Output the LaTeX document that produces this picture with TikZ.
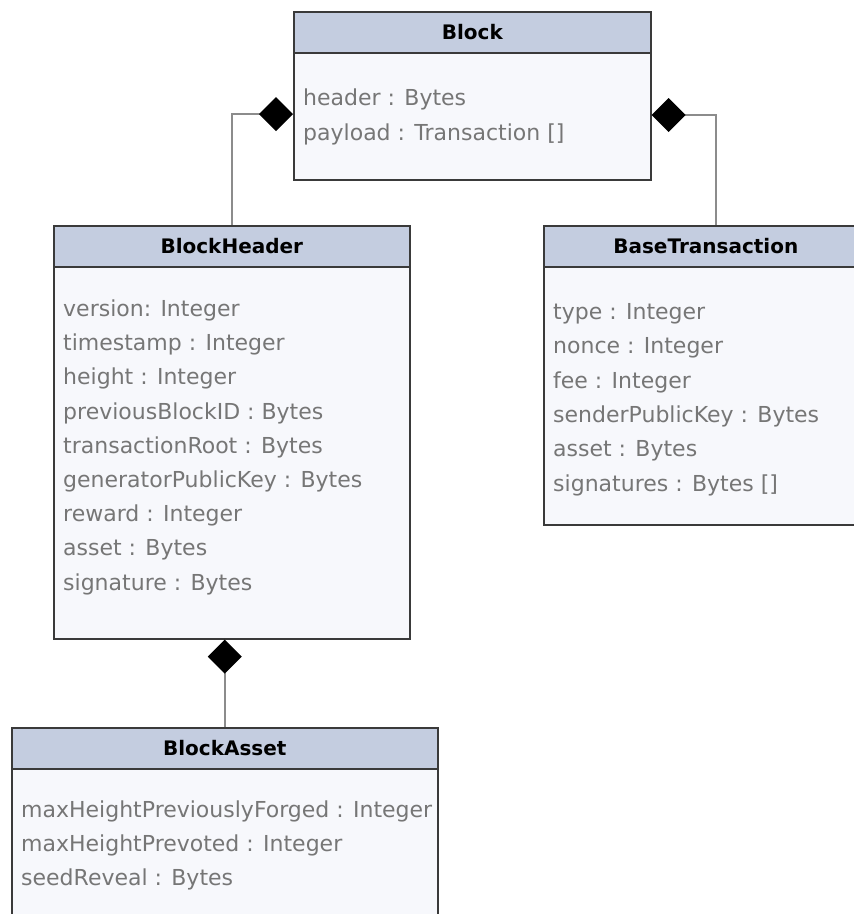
\documentclass[tikz,border=0pt]{standalone}
\usepackage{fontspec}
\setmainfont{DejaVu Sans}
\usetikzlibrary{arrows.meta}
\definecolor{hdr}{HTML}{C4CDE0}
\definecolor{bdy}{HTML}{F7F8FC}
\definecolor{edgec}{HTML}{3A3A3A}
\definecolor{attr}{HTML}{767676}
\definecolor{connc}{HTML}{8C8C8C}
\begin{document}
\begin{tikzpicture}[x=1pt,y=-1pt,
  classbox/.style={draw=edgec, line width=1.6pt, fill=bdy, inner sep=0pt, anchor=north west},
  headband/.style={draw=edgec, line width=1.6pt, fill=hdr, inner sep=0pt, anchor=north west, minimum height=41pt},
  title/.style={font=\fontsize{20}{24}\selectfont\bfseries, text=black, inner sep=0pt},
  attrtext/.style={font=\fontsize{22}{26}\selectfont, text=attr, anchor=base west, inner sep=0pt},
  compo/.style={draw=connc, line width=1.4pt, {Diamond[length=34pt,width=34pt,color=black,fill=black]}-}
]
\useasboundingbox (0,0) rectangle (854,914);
\clip (0,0) rectangle (854,914);
\fill[white] (0,0) rectangle (854,914);

% Block
\node[classbox, minimum width=357pt, minimum height=168pt] (blk) at (293,11) {};
\node[headband, minimum width=357pt] (blkh) at (293,11) {};
\node[title] (blkt) at (blkh.center) {Block};
\node[attrtext] (blk1) at (303,105.5) {header : Bytes};
\node[attrtext] (blk2) at (303,140) {payload : Transaction []};

% BlockHeader
\node[classbox, minimum width=356pt, minimum height=413pt] (bh) at (53,225) {};
\node[headband, minimum width=356pt] (bhh) at (53,225) {};
\node[title] (bht) at (bhh.center) {BlockHeader};
\foreach \t [count=\i from 0] in {version: Integer, timestamp : Integer, height : Integer, previousBlockID : Bytes, transactionRoot : Bytes, generatorPublicKey : Bytes, reward : Integer, asset : Bytes, signature : Bytes}
  \node[attrtext] (bh\i) at (63,{316.5+34.2*\i}) {\t};

% BaseTransaction
\node[classbox, minimum width=324pt, minimum height=299pt] (bt) at (543,225) {};
\node[headband, minimum width=324pt] (bth) at (543,225) {};
\node[title] (btt) at (bth.center) {BaseTransaction};
\foreach \t [count=\i from 0] in {type : Integer, nonce : Integer, fee : Integer, senderPublicKey : Bytes, asset : Bytes, signatures : Bytes []}
  \node[attrtext] (bt\i) at (553,{319.5+34.3*\i}) {\t};

% BlockAsset
\node[classbox, minimum width=426pt, minimum height=230pt] (ba) at (11,727) {};
\node[headband, minimum width=426pt] (bah) at (11,727) {};
\node[title] (bat) at (bah.center) {BlockAsset};
\foreach \t [count=\i from 0] in {maxHeightPreviouslyForged : Integer, maxHeightPrevoted : Integer, seedReveal : Bytes}
  \node[attrtext] (ba\i) at (21,{817+34*\i}) {\t};

% connectors
\draw[compo] (blk.west |- 0,114) -| (bh.north);
\draw[compo] (blk.east |- 0,115) -| ([xshift=173pt]bt.north west);
\draw[compo] (bh.south -| ba.north) -- (ba.north);
\end{tikzpicture}
\end{document}
